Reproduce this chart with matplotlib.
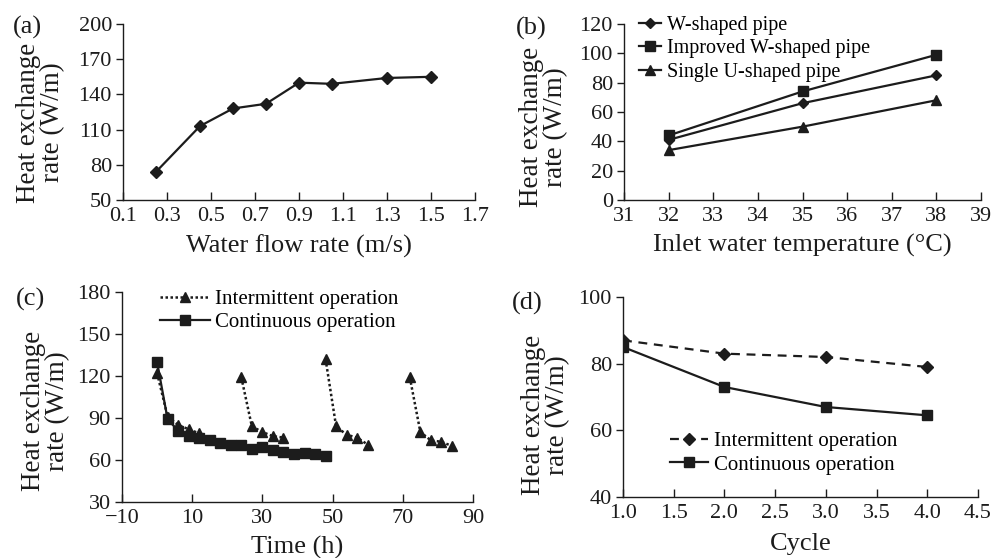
import numpy as np
import matplotlib
matplotlib.use("Agg")
import matplotlib.pyplot as plt

plt.rcParams['font.family'] = ['Liberation Serif', 'DejaVu Serif']
plt.rcParams['mathtext.fontset'] = 'stix'

INK = '#1c1c1c'

# (a) water flow rate
flow_rate = [0.25, 0.45, 0.6, 0.75, 0.9, 1.05, 1.3, 1.5]
flow_heat = [74, 113, 128, 132, 150, 149, 154, 155]

# (b) inlet water temperature
inlet_temp = [32, 35, 38]
w_pipe = [41, 66, 85]
improved_w_pipe = [44, 74, 99]
single_u_pipe = [34, 50, 68]

# (c) time series
cont_time = [0, 3, 6, 9, 12, 15, 18, 21, 24, 27, 30, 33, 36, 39, 42, 45, 48]
cont_heat = [130, 89, 81, 77, 76, 74, 72, 71, 71, 68, 69, 67, 66, 64, 65, 64, 63]
# nan separates the four intermittent runs
inter_time = [0, 3, 6, 9, 12, np.nan,
              24, 27, 30, 33, 36, np.nan,
              48, 51, 54, 57, 60, np.nan,
              72, 75, 78, 81, 84]
inter_heat = [122, 91, 85, 82, 79, np.nan,
              119, 84, 80, 77, 76, np.nan,
              132, 84, 78, 76, 71, np.nan,
              119, 80, 74, 73, 70]

# (d) cycles
cycle = [1, 2, 3, 4]
cycle_inter = [87, 83, 82, 79]
cycle_cont = [85, 73, 67, 64.5]

TICK_FS = 16
YLABEL_FS = 19.5
XLABEL_FS = 19

fig = plt.figure(figsize=(9.97, 5.58), dpi=100)


def style_axes(ax):
    for s in ['top', 'right']:
        ax.spines[s].set_visible(False)
    for s in ['left', 'bottom']:
        ax.spines[s].set_color(INK)
        ax.spines[s].set_linewidth(1.0)
    ax.tick_params(axis='y', direction='out', length=5, width=1.0,
                   labelsize=TICK_FS, colors=INK, pad=3)
    ax.tick_params(axis='x', direction='in', length=6, width=1.0,
                   labelsize=TICK_FS, colors=INK, pad=5)


def frac(x0, y0, x1, y1):
    W, H = 997.0, 558.0
    return [x0 / W, 1 - y1 / H, (x1 - x0) / W, (y1 - y0) / H]


ax_a = fig.add_axes(frac(123, 24, 475, 200))
ax_b = fig.add_axes(frac(624, 24, 981, 200))
ax_c = fig.add_axes(frac(122, 292, 473, 502))
ax_d = fig.add_axes(frac(623, 297, 978, 497))

# ---- (a)
ax_a.plot(flow_rate, flow_heat, color=INK, lw=1.6, marker='D', ms=6)
ax_a.set_xlim(0.1, 1.7)
ax_a.set_ylim(50, 200)
ax_a.set_xticks(np.arange(0.1, 1.71, 0.2))
ax_a.set_xticklabels(['%.1f' % v for v in np.arange(0.1, 1.71, 0.2)])
ax_a.set_yticks(range(50, 201, 30))
ax_a.set_xlabel('Water flow rate (m/s)', fontsize=XLABEL_FS, color=INK, labelpad=6.5)

# ---- (b)
ax_b.plot(inlet_temp, w_pipe, color=INK, lw=1.6, marker='D', ms=5,
          label='W-shaped pipe')
ax_b.plot(inlet_temp, improved_w_pipe, color=INK, lw=1.6, marker='s', ms=7,
          label='Improved W-shaped pipe')
ax_b.plot(inlet_temp, single_u_pipe, color=INK, lw=1.6, marker='^', ms=7,
          label='Single U-shaped pipe')
ax_b.set_xlim(31, 39)
ax_b.set_ylim(0, 120)
ax_b.set_xticks(range(31, 40))
ax_b.set_yticks(range(0, 121, 20))
ax_b.set_xlabel('Inlet water temperature (°C)', fontsize=XLABEL_FS, color=INK, labelpad=6)
ax_b.legend(loc='upper left', bbox_to_anchor=(0.02, 1.09), frameon=False,
            fontsize=14.5, handlelength=1.1, handletextpad=0.3,
            labelspacing=0.2, borderaxespad=0)

# ---- (c)
ax_c.plot(inter_time, inter_heat, color=INK, lw=1.8, ls=(0, (1, 1)),
          marker='^', ms=7, label='Intermittent operation')
ax_c.plot(cont_time, cont_heat, color=INK, lw=1.6, marker='s', ms=7,
          label='Continuous operation')
ax_c.set_xlim(-10, 90)
ax_c.set_ylim(30, 180)
ax_c.set_xticks(range(-10, 91, 20))
ax_c.set_yticks(range(30, 181, 30))
ax_c.set_xlabel('Time (h)', fontsize=XLABEL_FS, color=INK, labelpad=6)
ax_c.legend(loc='upper left', bbox_to_anchor=(0.085, 1.05), frameon=False,
            fontsize=15, handlelength=2.4, handletextpad=0.25,
            labelspacing=0.15, borderaxespad=0)

# ---- (d)
ax_d.plot(cycle, cycle_inter, color=INK, lw=1.6, ls=(0, (4, 3)),
          marker='D', ms=6, label='Intermittent operation')
ax_d.plot(cycle, cycle_cont, color=INK, lw=1.6, marker='s', ms=7,
          label='Continuous operation')
ax_d.set_xlim(1.0, 4.5)
ax_d.set_ylim(40, 100)
ax_d.set_xticks(np.arange(1.0, 4.51, 0.5))
ax_d.set_xticklabels(['%.1f' % v for v in np.arange(1.0, 4.51, 0.5)])
ax_d.set_yticks(range(40, 101, 20))
ax_d.set_xlabel('Cycle', fontsize=XLABEL_FS, color=INK, labelpad=7.5)
ax_d.legend(loc='upper left', bbox_to_anchor=(0.11, 0.37), frameon=False,
            fontsize=15, handlelength=1.8, handletextpad=0.3,
            labelspacing=0.2, borderaxespad=0)

label_x = {ax_a: (-0.165, 0.44), ax_b: (-0.157, 0.415),
           ax_c: (-0.148, 0.433), ax_d: (-0.149, 0.41)}
for ax in [ax_a, ax_b, ax_c, ax_d]:
    style_axes(ax)
    ax.set_ylabel('Heat exchange\nrate (W/m)', fontsize=YLABEL_FS, color=INK,
                  linespacing=0.95)
    ax.yaxis.set_label_coords(*label_x[ax])

# panel letters
for txt, px, py in [('(a)', 27, 27), ('(b)', 531, 28), ('(c)', 30, 299), ('(d)', 527, 303)]:
    fig.text(px / 997.0, 1 - py / 558.0, txt, fontsize=19, color=INK,
             ha='center', va='center')

fig.savefig('out.png', dpi=100)
